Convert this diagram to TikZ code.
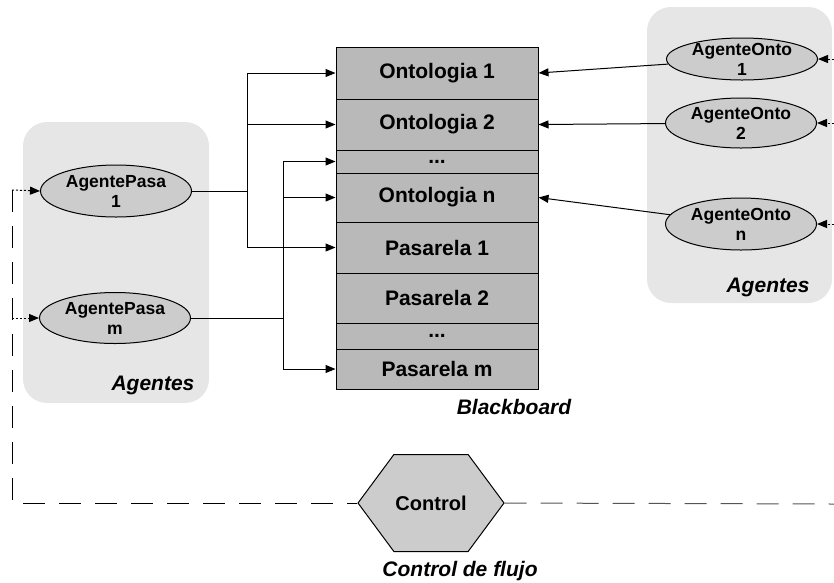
\documentclass[tikz,border=0pt]{standalone}
\usepackage{fontspec}
\setmainfont{Liberation Sans}
\usetikzlibrary{shapes.geometric,shapes.symbols,arrows.meta}
\definecolor{groupgray}{HTML}{E6E6E6}
\definecolor{agentgray}{HTML}{CCCCCC}
\definecolor{boardgray}{HTML}{B9B9B9}
\definecolor{flowgray}{HTML}{555555}

\begin{document}
\begin{tikzpicture}[x=1pt,y=-1pt,line width=1pt,>={Triangle[length=10pt,width=8pt]},
	flowline/.style={dash pattern=on 22pt off 14pt},
	dotarrow/.style={->,dash pattern=on 2pt off 2pt}]
	\useasboundingbox (0,0) rectangle (834,582);
	
	\begin{scope}[every node/.style={fill=groupgray,rounded corners=24pt,inner sep=0pt}]
		\node [minimum width=186pt,minimum height=281pt] (grpP) at (116,262.5) {};
		\node [minimum width=185pt,minimum height=296pt] (grpO) at (739.5,155) {};
	\end{scope}
	
	\begin{scope}[every node/.style={font=\bfseries\itshape\fontsize{21}{24}\selectfont}]
		\node (lblP) at (153,385) {Agentes};
		\node (lblO) at (768,287) {Agentes};
		\node (lblB) at (514,407) {Blackboard};
		\node (lblC) at (460,571) {Control de flujo};
	\end{scope}
	
	\begin{scope}[every node/.style={rectangle,draw,fill=boardgray,minimum width=202pt,inner sep=0pt,font=\bfseries\fontsize{21}{24}\selectfont}]
		\node [minimum height=52pt] (ont1) at (437,73) {Ontologia 1};
		\node [minimum height=51pt] (ont2) at (437,124.5) {Ontologia 2};
		\node [minimum height=23pt] (dotsA) at (437,161.5) {...};
		\node [minimum height=49pt] (ontn) at (437,197.5) {Ontologia n};
		\node [minimum height=51pt] (pas1) at (437,247.5) {Pasarela 1};
		\node [minimum height=50pt] (pas2) at (437,298) {Pasarela 2};
		\node [minimum height=26pt] (dotsB) at (437,336) {...};
		\node [minimum height=40pt] (pasm) at (437,369) {Pasarela m};
	\end{scope}
	
	\begin{scope}[every node/.style={ellipse,draw,fill=agentgray,align=center,inner xsep=0pt,inner ysep=-3pt,minimum width=151pt,font=\bfseries\fontsize{17.5}{20}\selectfont}]
		\node [minimum height=52pt] (pa1) at (116,191) {AgentePasa\\1};
		\node [minimum height=51pt] (pam) at (115,318) {AgentePasa\\m};
		\node [minimum height=42pt] (ao1) at (742,59) {AgenteOnto\\1};
		\node [minimum height=50pt] (ao2) at (741,123) {AgenteOnto\\2};
		\node [minimum height=52pt] (aon) at (741,224) {AgenteOnto\\n};
	\end{scope}
	
	\node [signal,signal to=west and east,signal pointer angle=107,draw,fill=agentgray,
		minimum width=146pt,minimum height=97pt,inner sep=0pt,
		font=\bfseries\fontsize{20}{24}\selectfont] (ctl) at (431,503) {Control};
	
	\coordinate (busP1) at (247,191);
	\coordinate (busPm) at (283,318);
	\coordinate (flowL) at (12,190);
	\coordinate (flowR) at (834,504);
	
	\draw (pa1.east) -- (busP1);
	\draw [->] (busP1) |- (ont1.west);
	\draw [->] (busP1) |- (ont2.west);
	\draw [->] (busP1) |- (pas1.west);
	\draw (pam.east) -- (busPm);
	\draw [->] (busPm) |- (dotsA.west);
	\draw [->] (busPm) |- (ontn.west);
	\draw [->] (busPm) |- (pasm.west);
	
	\begin{scope}[every edge/.style={draw=black,line width=1pt}]
		\path [->] (ao1) edge (ont1.east);
		\path [->] (ao2) edge (ont2.east);
		\path [->] (aon) edge (ontn.east);
	\end{scope}
	
	\draw [flowline] (flowL) |- (ctl.west);
	\draw [flowline,flowgray] (ctl.east) -- (flowR);
	\draw [dotarrow] (flowL) -- (pa1.west);
	\draw [dotarrow] (pam.west -| flowL) -- (pam.west);
	\draw [dotarrow] (ao1.east -| flowR) -- (ao1.east);
	\draw [dotarrow] (ao2.east -| flowR) -- (ao2.east);
	\draw [dotarrow] (aon.east -| flowR) -- (aon.east);
\end{tikzpicture}
\end{document}
